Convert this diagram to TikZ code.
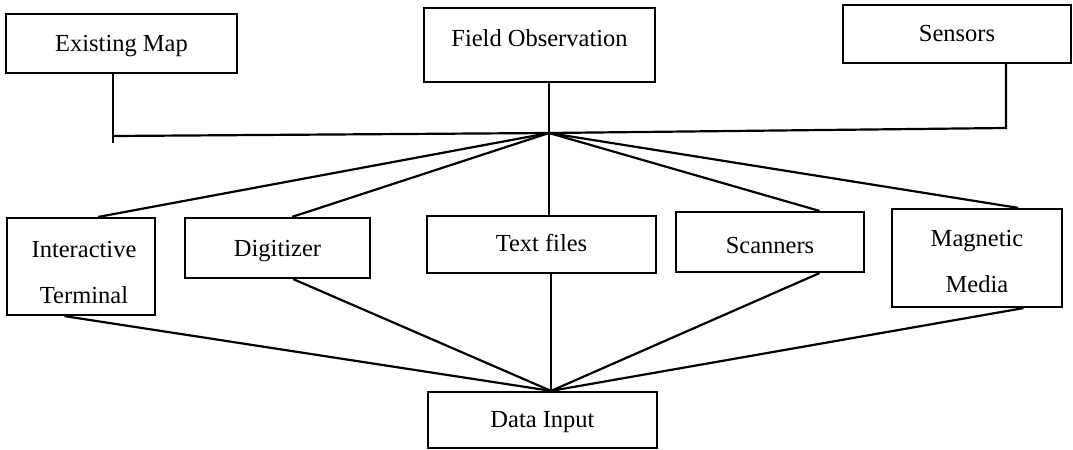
\documentclass[tikz,border=0pt]{standalone}
\usepackage{fontspec}
\setmainfont{Liberation Serif}
\usetikzlibrary{calc}

\tikzset{
  box/.style={draw, line width=1.1pt, rectangle, inner sep=0pt},
  txt/.style={inner sep=0pt, text height=0.7em, text depth=0.22em,
              font=\fontsize{12.25}{23}\selectfont},
  txt2/.style={inner sep=0pt, align=center,
               font=\fontsize{12.25}{23}\selectfont},
  link/.style={line width=1.1pt, line join=miter}
}

\begin{document}
\begin{tikzpicture}[x=0.5pt, y=-0.5pt]
  \useasboundingbox (0,0) rectangle (1073,450);

  % source boxes
  \node[box, minimum width=115.5pt, minimum height=29.5pt] (em) at (121.5,43.5) {};
  \node[box, minimum width=115.5pt, minimum height=37pt]   (fo) at (539.5,45) {};
  \node[box, minimum width=114pt,   minimum height=29pt]   (se) at (957,34) {};

  \node[txt] (emt) at (121.5,47) {Existing Map};
  \node[txt] (fot) at (539.5,42) {Field Observation};
  \node[txt] (set) at (957,37) {Sensors};

  % device boxes
  \node[box, minimum width=74pt,   minimum height=48.5pt] (it) at (81,266.5) {};
  \node[box, minimum width=92.5pt, minimum height=30pt]   (dg) at (277.5,248) {};
  \node[box, minimum width=114.5pt,minimum height=28.5pt] (tf) at (541.5,244.5) {};
  \node[box, minimum width=94pt,   minimum height=30pt]   (sc) at (770,242) {};
  \node[box, minimum width=85pt,   minimum height=49pt]   (mm) at (977,258) {};

  \node[txt2] (itt) at (84,272.5) {Interactive\\Terminal};
  \node[txt]  (dgt) at (277.5,252) {Digitizer};
  \node[txt]  (tft) at (541.5,247) {Text files};
  \node[txt]  (sct) at (770,249) {Scanners};
  \node[txt2] (mmt) at (977,262) {Magnetic\\Media};

  % result box
  \node[box, minimum width=114.5pt, minimum height=28pt] (di) at (542.5,420) {};
  \node[txt] (dit) at (542.5,423) {Data Input};

  % junction points
  \coordinate (hub)   at (549,133);
  \coordinate (ej)    at (113,136);
  \coordinate (ejend) at (113,143);
  \coordinate (sj)    at (1006,128);
  \coordinate (hubb)  at ($(di.north west)!0.537!(di.north east)$);

  % sources into the collecting bar
  \draw[link] (em.south -| ejend) -- (ejend);
  \draw[link] (ej) -- (hub);
  \draw[link] (hub) -- (sj) -- (se.south -| sj);
  \draw[link] (fo.south -| hub) -- (hub) -- (tf.north -| hub);

  % bar out to the devices
  \draw[link] (hub) -- ($(it.north west)!0.615!(it.north east)$);
  \draw[link] (hub) -- ($(dg.north west)!0.578!(dg.north east)$);
  \draw[link] (hub) -- ($(sc.north west)!0.76!(sc.north east)$);
  \draw[link] (hub) -- ($(mm.north west)!0.74!(mm.north east)$);

  % devices into data input
  \draw[link] ($(it.south west)!0.39!(it.south east)$) -- (hubb);
  \draw[link] ($(dg.south west)!0.584!(dg.south east)$) -- (hubb);
  \draw[link] (tf.south -| hubb) -- (hubb);
  \draw[link] ($(sc.south west)!0.76!(sc.south east)$) -- (hubb);
  \draw[link] ($(mm.south west)!0.77!(mm.south east)$) -- (hubb);
\end{tikzpicture}
\end{document}
